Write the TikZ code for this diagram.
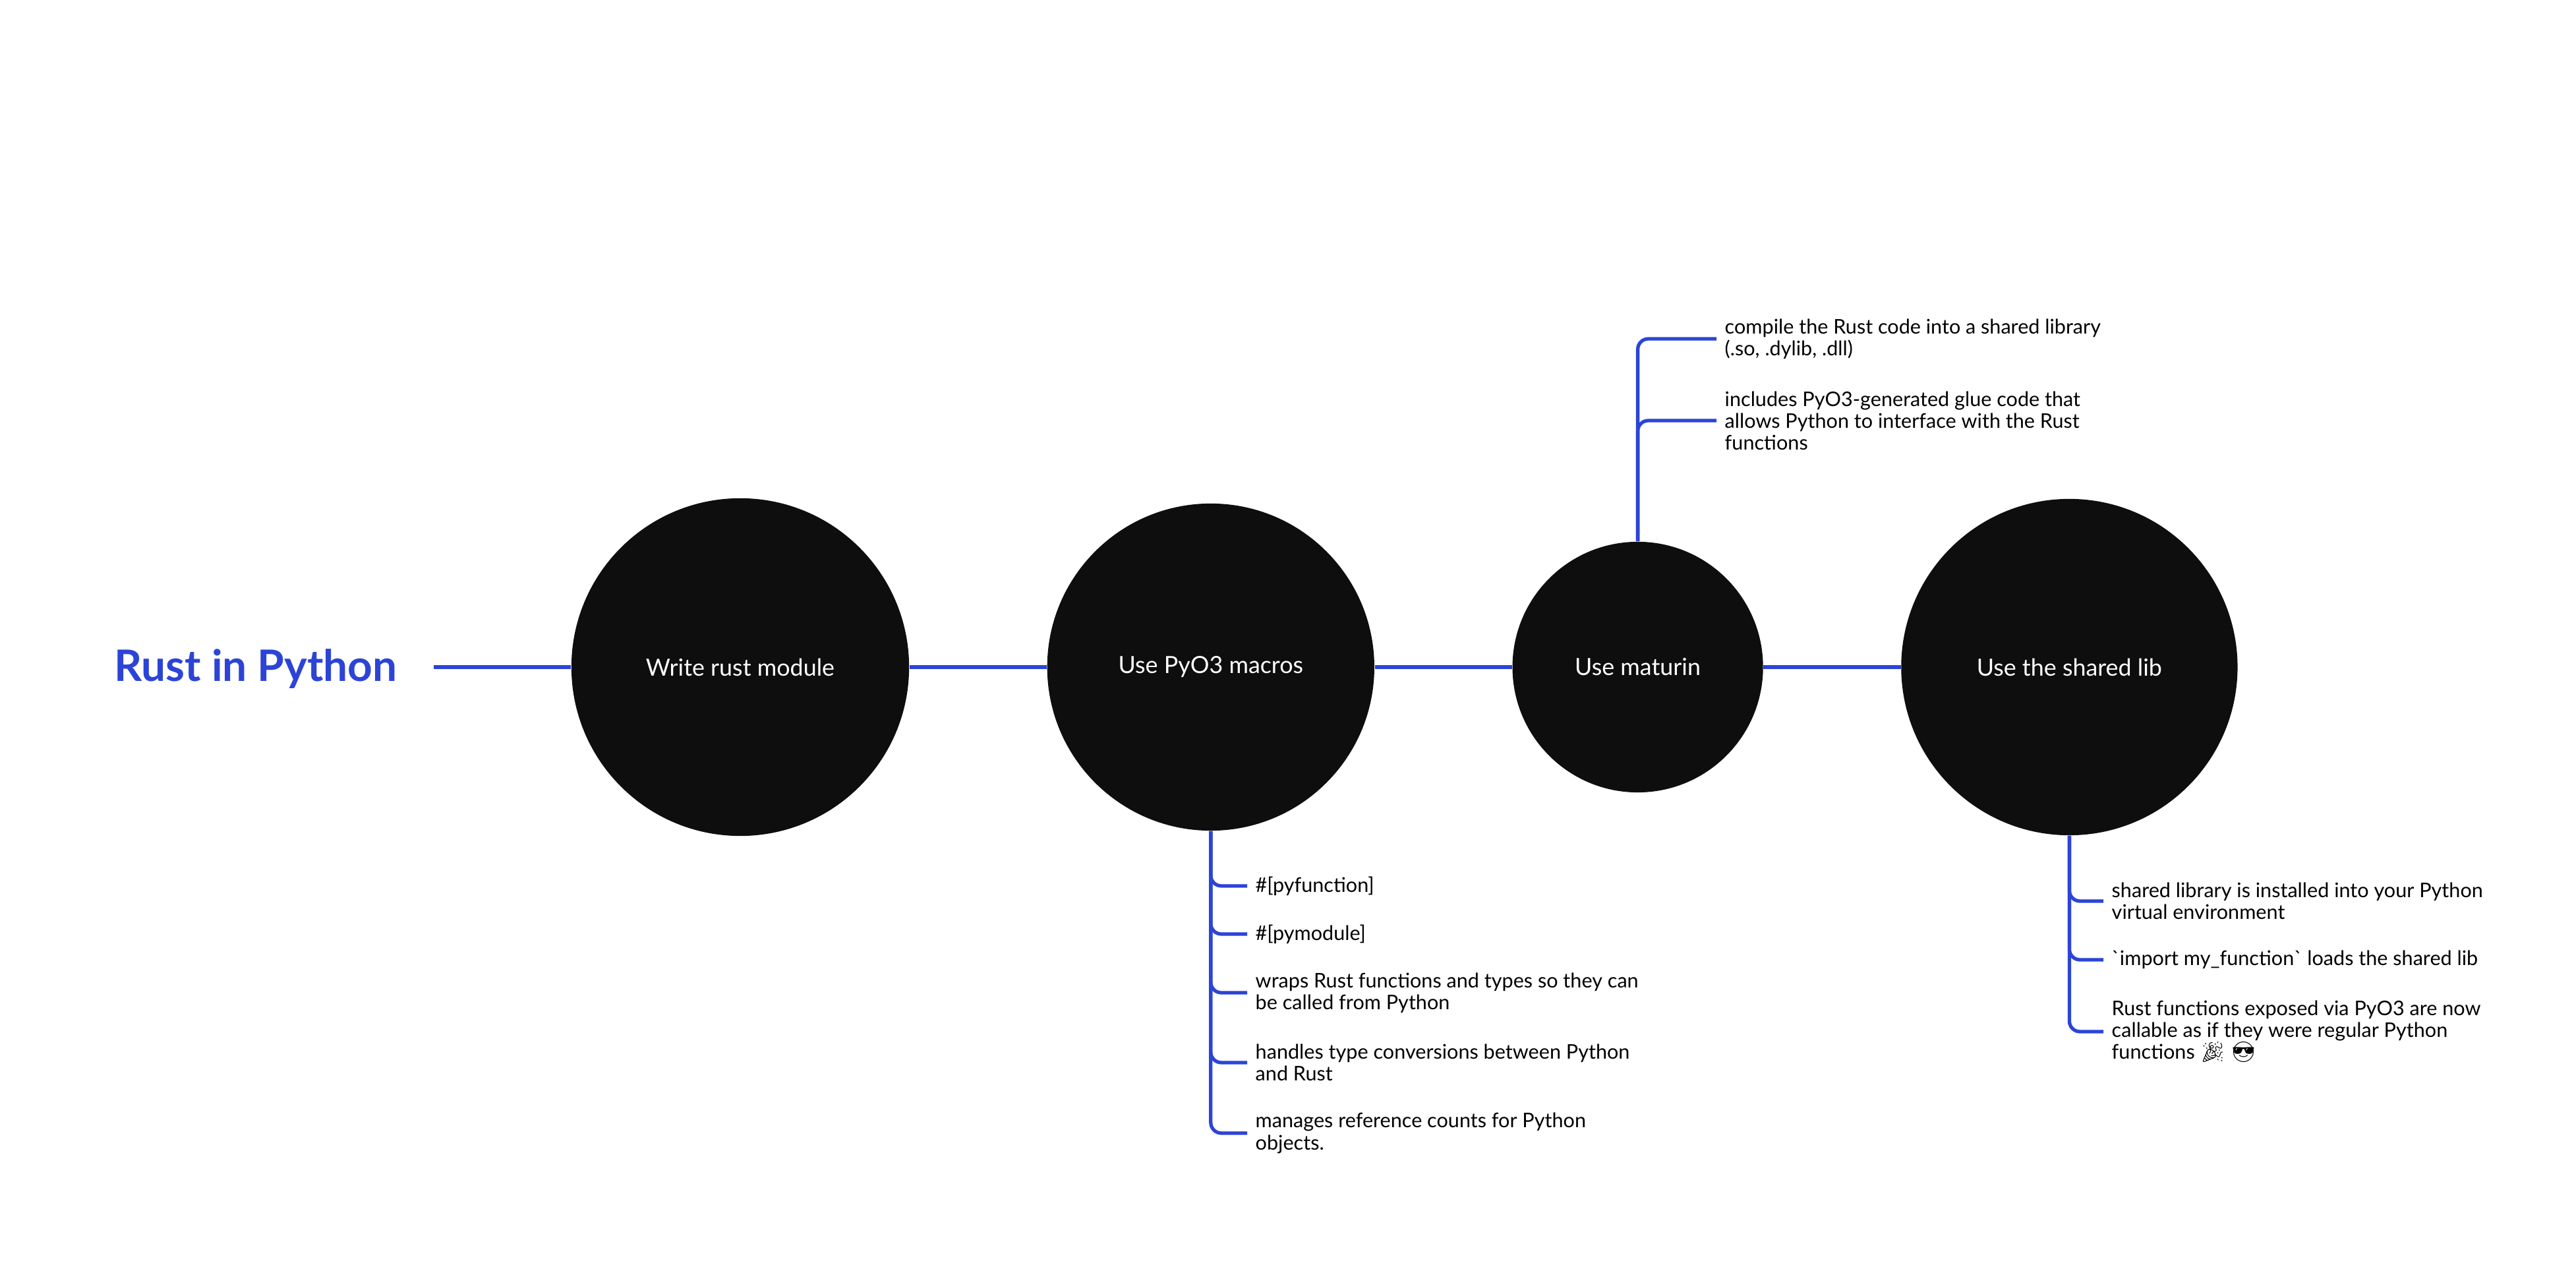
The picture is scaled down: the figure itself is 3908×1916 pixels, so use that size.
\documentclass[tikz,border=0pt]{standalone}
\usepackage{fontspec}
\setmainfont{Lato}
\newfontfamily\emojifont{Noto Emoji}
\usetikzlibrary{positioning}

\definecolor{linkblue}{RGB}{44,68,214}
\definecolor{stageblack}{RGB}{14,14,14}

\tikzset{
  stage/.style={circle, fill=stageblack, text=white, inner sep=0pt,
    font=\fontsize{10.2}{12}\selectfont},
  link/.style={draw=linkblue, line width=1.5pt},
  branch/.style={link, rounded corners=0.16cm},
  leaf/.style={anchor=west, align=left, inner xsep=0.12cm, inner ysep=0pt,
    font=\fontsize{8.7}{9.4}\selectfont},
  title/.style={text=linkblue, inner sep=0pt,
    font=\bfseries\fontsize{18.7}{22}\selectfont}
}

\begin{document}
\begin{tikzpicture}[x=0.01cm, y=-0.01cm]
    \useasboundingbox (0,0) rectangle (3908,1916);

    \node[title, anchor=base west] (title) at (173,1034) {Rust in Python};

    % the four steps
    \node[stage, minimum size=5.12cm] (write) at (1123,1012) {Write rust module};
    \node[stage, minimum size=4.96cm, right=2.08cm of write] (pyo3) {Use PyO3 macros};
    \node[stage, minimum size=3.8cm, right=2.08cm of pyo3] (maturin) {Use maturin};
    \node[stage, minimum size=5.1cm, right=2.08cm of maturin] (lib) {Use the shared lib};

    \coordinate[left=2.08cm of write] (lead);
    \draw[link] (lead) -- (write);
    \draw[link] (write) -- (pyo3);
    \draw[link] (pyo3) -- (maturin);
    \draw[link] (maturin) -- (lib);

    % PyO3 macros
    \node[leaf] (pyfn) at (1892,1344) {\#[pyfunction]};
    \node[leaf] (pymod) at (1892,1417) {\#[pymodule]};
    \node[leaf] (wraps) at (1892,1506) {wraps Rust functions and types so they can\\be called from Python};
    \node[leaf] (conv) at (1892,1612) {handles type conversions between Python\\and Rust};
    \node[leaf] (refs) at (1892,1719) {manages reference counts for Python\\objects.};
    \foreach \n in {pyfn,pymod,wraps,conv,refs}
      \draw[branch] (pyo3.south) |- (\n.west);

    % maturin
    \node[leaf] (compile) at (2604,514) {compile the Rust code into a shared library\\(.so, .dylib, .dll)};
    \node[leaf] (glue) at (2604,638) {includes PyO3-generated glue code that\\allows Python to interface with the Rust\\functions};
    \foreach \n in {compile,glue}
      \draw[branch] (maturin.north) |- (\n.west);

    % shared lib
    \node[leaf] (venv) at (3191,1367) {shared library is installed into your Python\\virtual environment};
    \node[leaf] (import) at (3191,1456) {\textasciigrave import my\_function\textasciigrave{} loads the shared lib};
    \node[leaf] (call) at (3191,1565) {Rust functions exposed via PyO3 are now\\callable as if they were regular Python\\functions {\emojifont 🎉} {\emojifont 😎}};
    \foreach \n in {venv,import,call}
      \draw[branch] (lib.south) |- (\n.west);
\end{tikzpicture}
\end{document}
